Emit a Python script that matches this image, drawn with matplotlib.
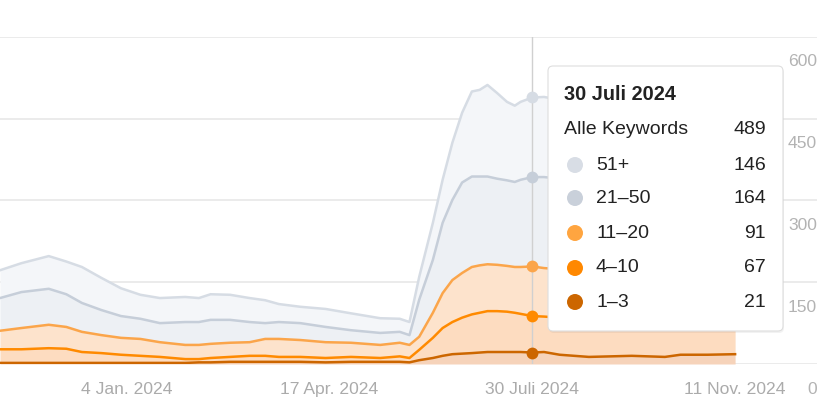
import numpy as np
import pandas as pd
import matplotlib
matplotlib.use("Agg")
import matplotlib.pyplot as plt
import matplotlib.dates as mdates
from matplotlib.patches import FancyBboxPatch, Circle
from matplotlib.transforms import IdentityTransform

plt.rcParams['font.family'] = ['Liberation Sans', 'DejaVu Sans']

# ==========================================
# Data (keywords per ranking band)
# ==========================================
dates = pd.to_datetime([
    "2023-10-31", "2023-11-11", "2023-11-25", "2023-12-04", "2023-12-12", "2023-12-22",
    "2024-01-01", "2024-01-11", "2024-01-21", "2024-02-03", "2024-02-10", "2024-02-16",
    "2024-02-26", "2024-03-07", "2024-03-15", "2024-03-22", "2024-04-02", "2024-04-15",
    "2024-04-28", "2024-05-13", "2024-05-23", "2024-05-28", "2024-06-02", "2024-06-09",
    "2024-06-14", "2024-06-19", "2024-06-24", "2024-06-29", "2024-07-03", "2024-07-07",
    "2024-07-12", "2024-07-17", "2024-07-21", "2024-07-24", "2024-07-30", "2024-08-05",
    "2024-08-13", "2024-08-28", "2024-09-19", "2024-10-06", "2024-10-14", "2024-10-28",
    "2024-11-11",
])
pos_1_3 = [2, 2, 2, 2, 2, 2, 2, 2, 2, 2, 3, 3, 4, 4, 4, 4, 4, 3, 4, 4, 4, 3,
           7, 11, 15, 18, 19, 20, 21, 22, 22, 22, 22, 22, 21, 22, 17, 13, 15, 13, 17, 17, 18]
pos_4_10 = [25, 25, 27, 26, 20, 18, 15, 13, 11, 7, 6, 8, 9, 11, 11, 9, 9, 8, 9, 7, 10, 8,
            19, 37, 51, 59, 66, 71, 73, 75, 75, 74, 72, 70, 67, 65, 68, 69, 65, 65, 62, 63, 62]
pos_11_20 = [34, 39, 43, 40, 37, 33, 31, 31, 27, 26, 26, 26, 26, 25, 31, 33, 31, 29, 26, 24, 25, 24,
             24, 46, 64, 77, 82, 87, 87, 86, 85, 84, 84, 86, 91, 89, 89, 88, 86, 85, 85, 85, 86]
pos_21_50 = [60, 66, 66, 60, 53, 46, 40, 37, 35, 42, 42, 44, 42, 37, 29, 31, 31, 28, 23, 22, 20, 18,
             68, 97, 129, 147, 166, 166, 163, 161, 158, 157, 156, 160, 164, 167, 166, 165, 164, 163, 163, 163, 164]
pos_51_plus = [51, 53, 60, 60, 66, 59, 51, 44, 46, 46, 44, 47, 46, 44, 42, 33, 30, 33, 31, 27, 24, 24,
               42, 68, 79, 105, 128, 156, 159, 168, 157, 144, 140, 143, 146, 147, 145, 143, 140, 139, 139, 140, 140]

band_labels = ["1–3", "4–10", "11–20", "21–50", "51+"]
tick_dates = pd.to_datetime(["2024-01-04", "2024-04-17", "2024-07-30", "2024-11-11"])
tick_labels = ["4 Jan. 2024", "17 Apr. 2024", "30 Juli 2024", "11 Nov. 2024"]
y_ticks = [0, 150, 300, 450, 600]
hover_date = pd.Timestamp("2024-07-30")
hover_title = "30 Juli 2024"

# ==========================================
# Styling
# ==========================================
line_colors = ["#cc6600", "#ff8a00", "#fba54a", "#c6ced9", "#d6dce4"]
fill_colors = ["#f6d3ba", "#fddcc0", "#fde3cc", "#edf0f4", "#f4f6f9"]
dot_colors = ["#cc6600", "#ff8800", "#ffa540", "#c9d0da", "#d8dde5"]

W, H = 830, 415
fig = plt.figure(figsize=(W / 100, H / 100), dpi=100)
ax = fig.add_axes([0, (H - 364) / H, 817 / W, (364 - 37) / H])

bands = np.array([pos_1_3, pos_4_10, pos_11_20, pos_21_50, pos_51_plus], dtype=float)
cum = np.cumsum(bands, axis=0)
lower = np.vstack([np.zeros(len(dates)), cum[:-1]])

for i in range(5):
    ax.fill_between(dates, lower[i], cum[i], color=fill_colors[i], lw=0, zorder=1)

ax.axvline(hover_date, color="#d0d0d0", lw=1, zorder=2)

for i in range(4, -1, -1):
    ax.plot(dates, cum[i], color=line_colors[i], lw=1.8, zorder=3, solid_joinstyle="round")

hi = list(dates).index(hover_date)
for i in range(5):
    ax.plot(hover_date, cum[i][hi], "o", ms=8.5, color=line_colors[i], mec="none", zorder=4)

ax.set_xlim(pd.Timestamp("2023-10-31"), pd.Timestamp("2024-12-23"))
ax.set_ylim(0, 600)
ax.set_yticks(y_ticks)
ax.yaxis.grid(True, color="#e8e8e8", lw=1.2)
ax.set_axisbelow(True)
ax.tick_params(left=False, right=False, bottom=False, labelleft=False, labelbottom=False)
for s in ax.spines.values():
    s.set_visible(False)
ax.set_facecolor("none")

# x tick labels
for d, lab in zip(tick_dates, tick_labels):
    ax.annotate(lab, (mdates.date2num(d), 0), xytext=(0, -18), textcoords="offset points",
                ha="center", va="center", fontsize=12.6, color="#ababab")

# right axis labels sit below their gridlines
for v in y_ticks:
    ax.annotate(str(v), (1, v), xycoords=("axes fraction", "data"), xytext=(0, -18),
                textcoords="offset points", ha="right", va="center", fontsize=12.6, color="#b3b3b3")

# ==========================================
# Tooltip
# ==========================================
def px(x, y):
    return x, H - y

bx0, by0, bx1, by1 = 548, 66, 783, 331
shadow = FancyBboxPatch(px(bx0 + 1, by1 + 2), bx1 - bx0, by1 - by0,
                        boxstyle="round,pad=0,rounding_size=5", transform=IdentityTransform(),
                        fc="#000000", ec="none", alpha=0.05, zorder=9)
box = FancyBboxPatch(px(bx0, by1), bx1 - bx0, by1 - by0,
                     boxstyle="round,pad=0,rounding_size=5", transform=IdentityTransform(),
                     fc="white", ec="#dedede", lw=0.8, zorder=10)
fig.add_artist(shadow)
fig.add_artist(box)

fs = 14
fig.text(564 / W, 1 - 95 / H, hover_title, fontsize=14.3, fontweight="bold",
         color="#222222", va="center", ha="left", zorder=11)
fig.text(564 / W, 1 - 130 / H, "Alle Keywords", fontsize=fs, color="#222222",
         va="center", ha="left", zorder=11)
fig.text(766 / W, 1 - 130 / H, str(int(cum[-1][hi])), fontsize=fs, color="#222222",
         va="center", ha="right", zorder=11)

row_y = [302, 268, 233, 198, 165]
for i in range(5):
    ry = row_y[i]
    fig.add_artist(Circle(px(575, ry), 8, transform=IdentityTransform(),
                          fc=dot_colors[i], ec="none", zorder=11))
    fig.text(596 / W, 1 - ry / H, band_labels[i], fontsize=fs, color="#222222",
             va="center", ha="left", zorder=11)
    fig.text(766 / W, 1 - ry / H, str(int(bands[i][hi])), fontsize=fs, color="#222222",
             va="center", ha="right", zorder=11)

fig.savefig("out.png", dpi=100)
